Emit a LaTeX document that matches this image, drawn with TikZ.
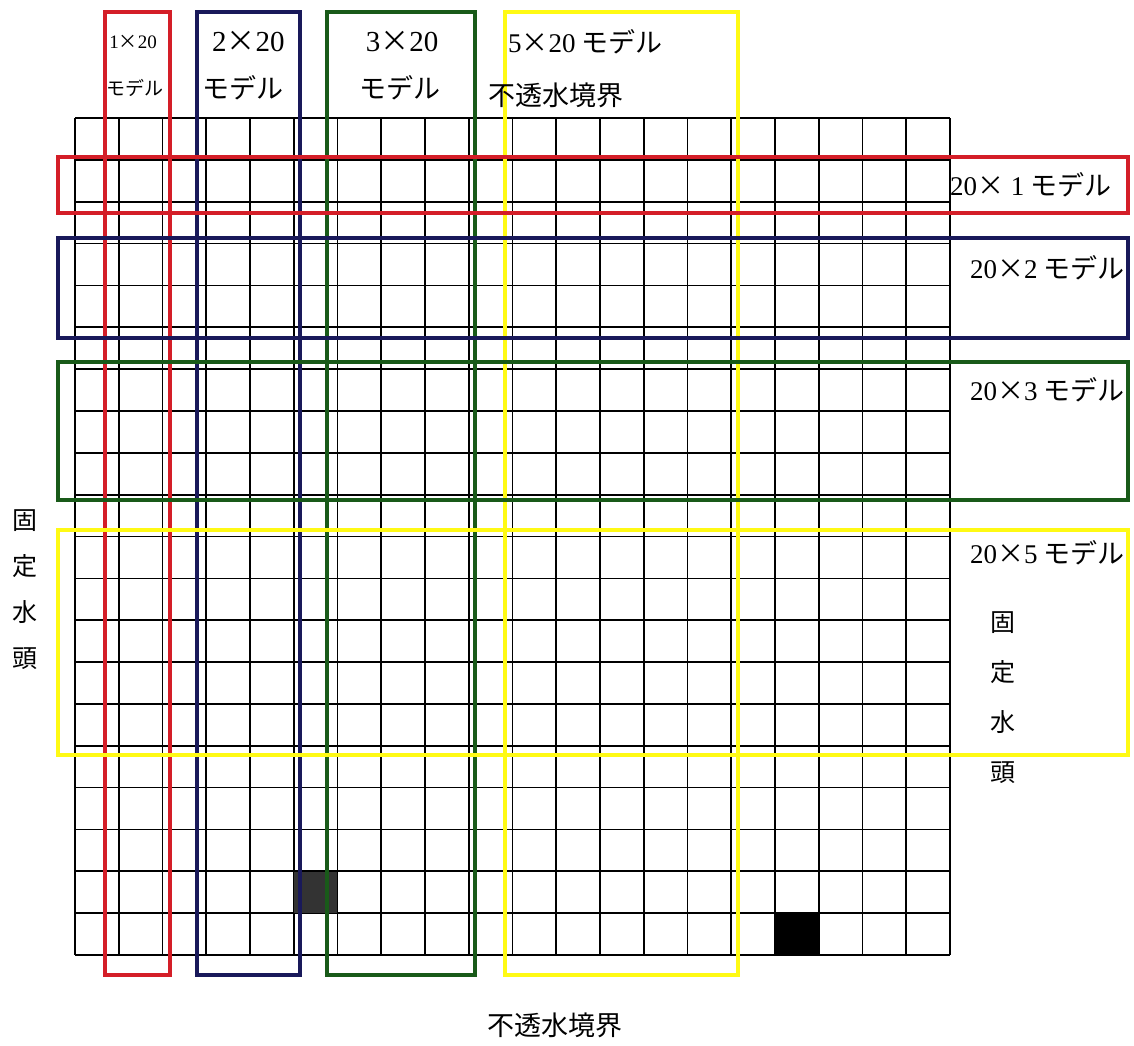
\documentclass[tikz,border=0pt]{standalone}
\usepackage{fontspec}
\setmainfont{Liberation Serif}
\newfontfamily\cjk{Noto Sans CJK JP}
\newcommand\lat[1]{{\rmfamily #1}}
\newcommand\tms{{\cjk ×}}
\definecolor{mred}{RGB}{212,30,40}
\definecolor{mnavy}{RGB}{25,25,90}
\definecolor{mgreen}{RGB}{25,90,25}
\definecolor{myellow}{RGB}{255,250,20}
\begin{document}
\begin{tikzpicture}[x=1pt,y=-1pt,
  gridline/.style={line width=1.7pt,black},
  mbox/.style={line width=4pt},
  lbl/.style={font=\cjk\fontsize{27}{30}\selectfont, inner sep=0pt},
  big/.style={font=\cjk\fontsize{29}{32}\selectfont, inner sep=0pt},
  small/.style={font=\cjk\fontsize{19}{22}\selectfont, inner sep=0pt},
  vtext/.style={font=\cjk\fontsize{25}{30}\selectfont, inner sep=0pt, align=center}]
\useasboundingbox[fill=white] (0,0) rectangle (1134,1045);
% grid
\foreach \i in {0,...,20}{
  \draw[gridline] ({75+43.75*\i},118) -- ({75+43.75*\i},955);
  \draw[gridline] (75,{118+41.85*\i}) -- (950,{118+41.85*\i});
}
% filled cells
\fill[black!80] (294,872) rectangle (337,913);
\fill[black] (775,913) rectangle (819,955);
% vertical model boxes
\draw[mbox,mred] (105,12) rectangle (170,975);
\draw[mbox,mnavy] (197,12) rectangle (300,975);
\draw[mbox,mgreen] (327,12) rectangle (475,975);
\draw[mbox,myellow] (505,12) rectangle (738,975);
% horizontal model boxes
\draw[mbox,mred] (58,157) rectangle (1128,213);
\draw[mbox,mnavy] (58,238) rectangle (1128,338);
\draw[mbox,mgreen] (58,362) rectangle (1128,500);
\draw[mbox,myellow] (58,530) rectangle (1128,755);
% top labels
\node[small] (t1a) at (133,42) {\lat{1}\tms\lat{20}};
\node[small] (t1b) at (135,88) {モデル};
\node[big,anchor=west] (t2a) at (212,42) {\lat{2}\tms\lat{20}};
\node[lbl] (t2b) at (243,88) {モデル};
\node[big] (t3a) at (402,42) {\lat{3}\tms\lat{20}};
\node[lbl] (t3b) at (400,88) {モデル};
\node[lbl,anchor=west] (t5) at (508,42) {\lat{5}\tms\lat{20} モデル};
\node[lbl,anchor=west] (top) at (488,95) {不透水境界};
% right labels
\node[lbl,anchor=west] (r1) at (950,185) {\lat{20}\tms\lat{ 1} モデル};
\node[lbl,anchor=west] (r2) at (970,268) {\lat{20}\tms\lat{2} モデル};
\node[lbl,anchor=west] (r3) at (970,390) {\lat{20}\tms\lat{3} モデル};
\node[lbl,anchor=west] (r5) at (970,553) {\lat{20}\tms\lat{5} モデル};
% fixed head labels
\node[vtext,font=\cjk\fontsize{25}{46}\selectfont] (left) at (25,590) {固\\定\\水\\頭};
\node[vtext,font=\cjk\fontsize{25}{50}\selectfont] (right) at (1003,698) {固\\定\\水\\頭};
% bottom
\node[lbl] (bottom) at (555,1025) {不透水境界};
\end{tikzpicture}
\end{document}
